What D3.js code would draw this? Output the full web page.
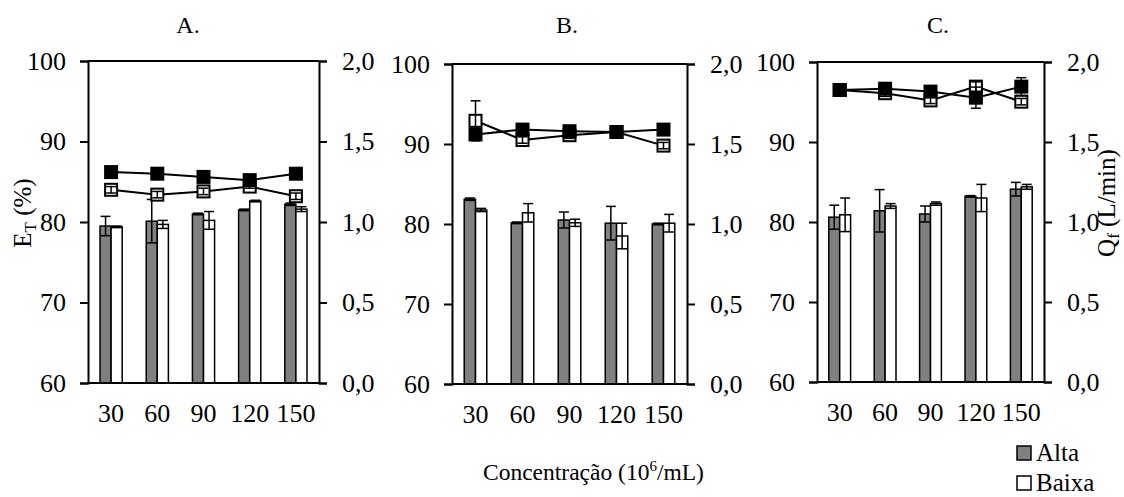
<!DOCTYPE html>
<html><head><meta charset="utf-8">
<script src="https://cdn.jsdelivr.net/npm/d3@7"></script>
<style>
body{margin:0;background:#fff}
svg{display:block}
text{font-family:"Liberation Serif","Times New Roman",serif;fill:#000}
</style>
</head><body>
<svg id="chart" width="1124" height="497"></svg>
<script>
// ---------- data ----------
const concentrations = ["30", "60", "90", "120", "150"];
const panelTitles = ["A.", "B.", "C."];
const seriesNames = ["Alta", "Baixa"];
const leftTicks = [60, 70, 80, 90, 100];
const rightTicks = [0, 0.5, 1.0, 1.5, 2.0];

// E_T (%) bars, per panel A, B, C
const etAlta     = [[79.5, 80.1, 81.0, 81.5, 82.2], [83.1, 80.15, 80.5, 80.1, 80.0], [80.6, 81.4, 81.0, 83.2, 84.1]];
const etAltaErr  = [[1.2, 2.7, 0.1, 0.1, 0.15],     [0.15, 0.1, 1.0, 2.1, 0.1],      [1.5, 2.65, 1.0, 0.1, 0.85]];
const etBaixa    = [[79.4, 79.7, 80.2, 82.6, 81.6], [81.75, 81.4, 80.15, 78.5, 80.1], [80.9, 82.0, 82.3, 83.0, 84.4]];
const etBaixaErr = [[0.1, 0.5, 1.1, 0.1, 0.3],      [0.2, 1.15, 0.45, 1.6, 1.1],     [2.1, 0.3, 0.2, 1.7, 0.3]];

// Q_f (L/min) lines, per panel A, B, C
const qfAlta     = [[1.31, 1.30, 1.28, 1.26, 1.30], [1.56, 1.59, 1.58, 1.575, 1.59], [1.825, 1.833, 1.815, 1.777, 1.846]];
const qfAltaErr  = [[0.01, 0.01, 0.01, 0.01, 0.01], [0.02, 0.01, 0.01, 0.01, 0.01], [0.01, 0.01, 0.02, 0.066, 0.056]];
const qfBaixa    = [[1.20, 1.17, 1.19, 1.22, 1.16], [1.645, 1.525, 1.555, 1.575, 1.49], [1.825, 1.805, 1.76, 1.846, 1.752]];
const qfBaixaErr = [[0.02, 0.02, 0.02, 0.01, 0.02], [0.125, 0.02, 0.02, 0.01, 0.02], [0.01, 0.02, 0.02, 0.03, 0.02]];

// ---------- layout ----------
const frames = [
  {left: 88,  right: 319,  top: 61, bottom: 383, titleX: 188},
  {left: 452, right: 687,  top: 64, bottom: 384, titleX: 567},
  {left: 817, right: 1044, top: 62, bottom: 382, titleX: 938}
];
const FS = 26;
const svg = d3.select("#chart");
const fmtRight = v => d3.format(".1f")(v).replace(".", ",");
const grayFill = "#808080";

frames.forEach((f, pi) => {
  const g = svg.append("g");
  const x = d3.scaleBand().domain(concentrations).range([f.left, f.right]).paddingInner(0.52).paddingOuter(0.26);
  const xs = d3.scaleBand().domain(seriesNames).range([0, x.bandwidth()]);
  const yL = d3.scaleLinear().domain([60, 100]).range([f.bottom, f.top]);
  const yR = d3.scaleLinear().domain([0, 2]).range([f.bottom, f.top]);

  // bars
  const barData = [];
  concentrations.forEach((c, i) => {
    barData.push({c, s: "Alta", v: etAlta[pi][i], e: etAltaErr[pi][i]});
    barData.push({c, s: "Baixa", v: etBaixa[pi][i], e: etBaixaErr[pi][i]});
  });
  g.selectAll("rect.bar").data(barData).join("rect")
    .attr("x", d => x(d.c) + xs(d.s))
    .attr("y", d => yL(d.v))
    .attr("width", xs.bandwidth())
    .attr("height", d => yL(60) - yL(d.v))
    .attr("fill", d => d.s === "Alta" ? grayFill : "#fff")
    .attr("stroke", "#000").attr("stroke-width", 1.5);
  // bar error bars
  const capW = 10;
  const eb = g.selectAll("g.eb").data(barData).join("g")
    .attr("transform", d => `translate(${x(d.c) + xs(d.s) + xs.bandwidth() / 2},0)`);
  eb.append("line").attr("y1", d => yL(d.v - d.e)).attr("y2", d => yL(d.v + d.e))
    .attr("stroke", "#000").attr("stroke-width", 1.5);
  [1, -1].forEach(sg => {
    eb.append("line").attr("x1", -capW / 2).attr("x2", capW / 2)
      .attr("y1", d => yL(d.v + sg * d.e)).attr("y2", d => yL(d.v + sg * d.e))
      .attr("stroke", "#000").attr("stroke-width", 1.5);
  });

  // lines (Baixa first, Alta on top)
  const lineGen = d3.line().x(d => x(d.c) + x.bandwidth() / 2).y(d => yR(d.v));
  [["Baixa", qfBaixa[pi], qfBaixaErr[pi]], ["Alta", qfAlta[pi], qfAltaErr[pi]]].forEach(([s, vals, errs]) => {
    const pts = concentrations.map((c, i) => ({c, v: vals[i], e: errs[i]}));
    g.append("path").datum(pts).attr("d", lineGen)
      .attr("fill", "none").attr("stroke", "#000").attr("stroke-width", 2);
    const m = 12;
    g.selectAll(null).data(pts).join("rect")
      .attr("x", d => x(d.c) + x.bandwidth() / 2 - m / 2)
      .attr("y", d => yR(d.v) - m / 2)
      .attr("width", m).attr("height", m)
      .attr("fill", s === "Alta" ? "#000" : "#fff")
      .attr("stroke", "#000").attr("stroke-width", 2);
    const le = g.selectAll(null).data(pts).join("g")
      .attr("transform", d => `translate(${x(d.c) + x.bandwidth() / 2},0)`);
    le.append("line").attr("y1", d => yR(d.v - d.e)).attr("y2", d => yR(d.v + d.e))
      .attr("stroke", "#000").attr("stroke-width", 1.5);
    [1, -1].forEach(sg => {
      le.append("line").attr("x1", -5).attr("x2", 5)
        .attr("y1", d => yR(d.v + sg * d.e)).attr("y2", d => yR(d.v + sg * d.e))
        .attr("stroke", "#000").attr("stroke-width", 1.5);
    });
  });

  // frame: top line, bottom axis line
  g.append("line").attr("x1", f.left).attr("x2", f.right).attr("y1", f.top).attr("y2", f.top)
    .attr("stroke", "#000").attr("stroke-width", 2);
  g.append("line").attr("x1", f.left).attr("x2", f.right).attr("y1", f.bottom).attr("y2", f.bottom)
    .attr("stroke", "#000").attr("stroke-width", 2);

  // left axis
  const la = g.append("g").attr("transform", `translate(${f.left},0)`)
    .call(d3.axisLeft(yL).tickValues(leftTicks).tickSize(8).tickPadding(14).tickFormat(d3.format("d")));
  // right axis
  const ra = g.append("g").attr("transform", `translate(${f.right},0)`)
    .call(d3.axisRight(yR).tickValues(rightTicks).tickSize(8).tickPadding(15).tickFormat(fmtRight));
  [la, ra].forEach(a => {
    a.select(".domain").attr("stroke", "#000").attr("stroke-width", 2);
    a.selectAll(".tick line").attr("stroke", "#000").attr("stroke-width", 2);
    a.selectAll(".tick text").attr("font-size", FS).attr("font-family", null).attr("fill", "#000");
  });
  // x axis labels (no ticks)
  const xa = g.append("g").attr("transform", `translate(0,${f.bottom})`)
    .call(d3.axisBottom(x).tickSize(0).tickPadding(21));
  xa.select(".domain").remove();
  xa.selectAll(".tick text").attr("font-size", FS).attr("font-family", null).attr("fill", "#000");

  // title
  svg.append("text").attr("x", f.titleX).attr("y", 33).attr("text-anchor", "middle")
    .attr("font-size", 24).text(panelTitles[pi]);
});

// Y axis titles
const yt = svg.append("text").attr("transform", "translate(31,213) rotate(-90)")
  .attr("text-anchor", "middle").attr("font-size", 25);
yt.append("tspan").text("E");
yt.append("tspan").attr("font-size", 17).attr("dy", 5).text("T");
yt.append("tspan").attr("dy", -5).text(" (%)");

const qt = svg.append("text").attr("transform", "translate(1115,203) rotate(-90)")
  .attr("text-anchor", "middle").attr("font-size", 25);
qt.append("tspan").text("Q");
qt.append("tspan").attr("font-size", 17).attr("dy", 4).text("f");
qt.append("tspan").attr("dy", -4).text(" (L/min)");

// X axis title
const xt = svg.append("text").attr("x", 483).attr("y", 480).attr("font-size", 23.5);
xt.append("tspan").text("Concentração (10");
xt.append("tspan").attr("font-size", 15).attr("dy", -9).text("6");
xt.append("tspan").attr("dy", 9).text("/mL)");

// legend
const leg = svg.append("g").selectAll("g").data(seriesNames).join("g")
  .attr("transform", (d, i) => `translate(1017,${453 + i * 30})`);
leg.append("rect").attr("x", 0).attr("y", -7).attr("width", 14).attr("height", 14)
  .attr("fill", d => d === "Alta" ? grayFill : "#fff").attr("stroke", "#000").attr("stroke-width", 1.5);
leg.append("text").attr("x", 19).attr("y", 8).attr("font-size", 25).text(d => d);
</script>
</body></html>
